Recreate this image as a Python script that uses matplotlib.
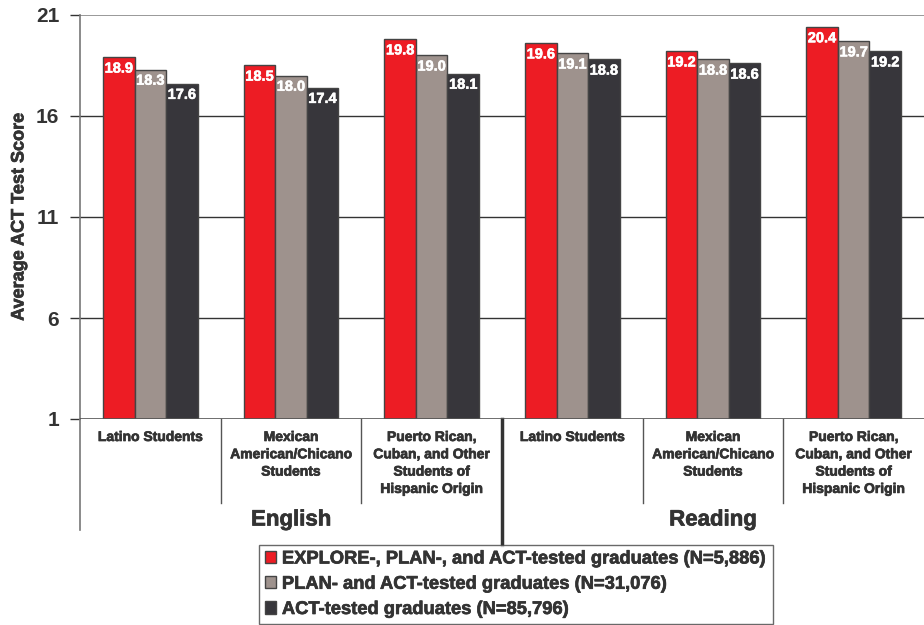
import matplotlib.pyplot as plt
import matplotlib.patheffects as pe
import numpy as np

# Data
subjects = ['English', 'Reading']
groups = ['Latino Students',
          'Mexican\nAmerican/Chicano\nStudents',
          'Puerto Rican,\nCuban, and Other\nStudents of\nHispanic Origin']
series_labels = ['EXPLORE-, PLAN-, and ACT-tested graduates (N=5,886)',
                 'PLAN- and ACT-tested graduates (N=31,076)',
                 'ACT-tested graduates (N=85,796)']
explore_plan_act = [18.9, 18.5, 19.8, 19.6, 19.2, 20.4]
plan_act = [18.3, 18.0, 19.0, 19.1, 18.8, 19.7]
act_only = [17.6, 17.4, 18.1, 18.8, 18.6, 19.2]
yticks = [1, 6, 11, 16, 21]

colors = ['#ED1C24', '#9E928D', '#37363B']
FONT = 'Liberation Sans'
TXT = '#333333'
plt.rcParams['font.family'] = FONT
plt.rcParams['font.weight'] = 'bold'
heavy = [pe.withStroke(linewidth=0.5, foreground=TXT)]

fig = plt.figure(figsize=(9.24, 6.25), dpi=100)
ax = fig.add_axes([80 / 924, 1 - 419 / 625, 1 - 80 / 924, (419 - 15) / 625])

n = len(explore_plan_act)
centers = np.arange(n) + 0.5
width = 0.224
all_series = [explore_plan_act, plan_act, act_only]
for k, (vals, col, lab) in enumerate(zip(all_series, colors, series_labels)):
    x = centers + (k - 1) * width
    ax.bar(x, np.array(vals) - 1, width, bottom=1, color=col,
           edgecolor='#444444', linewidth=1, label=lab, zorder=3)
    for xi, v in zip(x, vals):
        ax.annotate(f'{v:.1f}', (xi, v), xytext=(0, -3), textcoords='offset points',
                    ha='center', va='top', color='white', fontsize=10.5,
                    family=FONT, fontweight='bold', zorder=4,
                    path_effects=[pe.withStroke(linewidth=0.4, foreground='white')])

ax.set_xlim(0, n)
ax.set_ylim(1, 21)
ax.set_yticks(yticks)
ax.set_yticklabels([str(t) for t in yticks], fontsize=15, fontweight='bold',
                   family=FONT, color=TXT)
ax.set_xticks([])
ax.tick_params(axis='y', length=7, width=1, color=TXT, pad=8)
for s in ['top', 'right', 'bottom']:
    ax.spines[s].set_visible(False)
ax.spines['left'].set_color('#777777')
ax.spines['left'].set_linewidth(1.2)
for t in [6, 11, 16]:
    ax.axhline(t, color=TXT, linewidth=1, zorder=1)
ax.axhline(21, color='#888888', linewidth=1.2, zorder=1)
ax.axhline(1, color='#555555', linewidth=1.2, zorder=5)
ax.set_ylabel('Average ACT Test Score', fontsize=13, fontweight='bold',
              family=FONT, color=TXT, labelpad=6, path_effects=heavy)

# Category labels and separators below the axis
trans = ax.get_xaxis_transform()
h = 404.0
for i, c in enumerate(centers):
    ax.text(c, -11 / h, groups[i % 3], transform=trans, ha='center', va='top',
            fontsize=10, fontweight='bold', family=FONT, color=TXT,
            linespacing=1.3, path_effects=heavy)
for xs in [1, 2, 4, 5]:
    ax.plot([xs, xs], [0, -84 / h], transform=trans, color='#555555',
            linewidth=1, clip_on=False)
ax.plot([3, 3], [0, -126 / h], transform=trans, color=TXT,
        linewidth=2.5, clip_on=False)
ax.plot([0, 0], [0, -111 / h], transform=trans, color='#777777',
        linewidth=1.2, clip_on=False)
for j, subj in enumerate(subjects):
    ax.text(1.5 + 3 * j, -101 / h, subj, transform=trans, ha='center', va='center',
            fontsize=16, fontweight='bold', family=FONT, color=TXT, path_effects=heavy)

leg = fig.legend(loc='upper left', bbox_to_anchor=(259 / 924, 1 - 545 / 625),
                 ncol=1, frameon=True, fancybox=False,
                 prop={'family': FONT, 'weight': 'bold', 'size': 13.2},
                 handlelength=0.65, handleheight=0.65, handletextpad=0.3,
                 labelspacing=0.45, borderpad=0.3, borderaxespad=0)
leg.get_frame().set_edgecolor('#444444')
leg.get_frame().set_linewidth(1)
for t in leg.get_texts():
    t.set_color(TXT)
    t.set_path_effects(heavy)

fig.savefig('out.png', dpi=100)
